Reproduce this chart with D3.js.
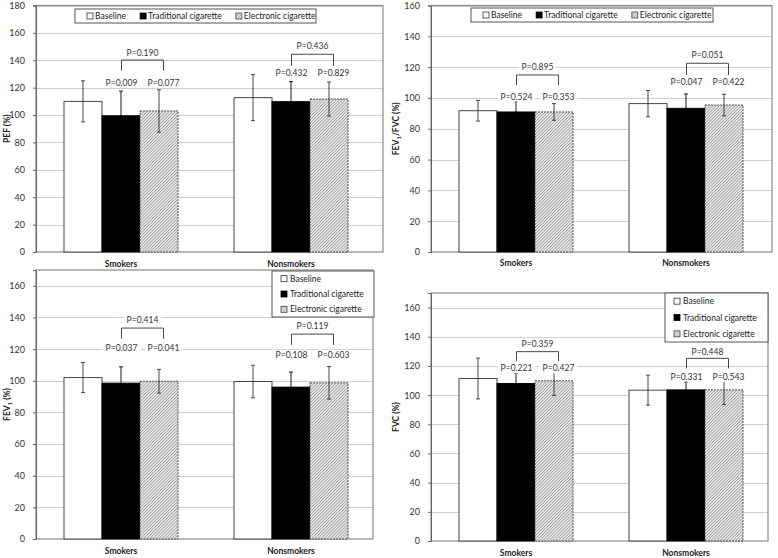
<!DOCTYPE html>
<html><head><meta charset="utf-8">
<script src="https://cdn.jsdelivr.net/npm/d3@7"></script>
<style>body{margin:0;background:#fff} text{font-family:Lato,'Open Sans',sans-serif}</style>
</head><body><svg id="c" width="778" height="558"></svg>
<script>
// ---------- DATA ----------
const groups = ["Smokers", "Nonsmokers"];
const seriesNames = ["Baseline", "Traditional cigarette", "Electronic cigarette"];

const pefMean   = [[110, 99.5, 103], [112.7, 109.8, 111.7]];
const pefSD     = [[15, 18, 15.5], [16.8, 14.6, 12.4]];
const ratioMean = [[91.7, 90.9, 90.9], [96.3, 93.3, 95.4]];
const ratioSD   = [[6.7, 6.7, 5.4], [8.5, 9.3, 7]];
const fev1Mean  = [[102, 98.5, 99.7], [99.5, 96, 98.7]];
const fev1SD    = [[9.5, 10.3, 7.5], [10.3, 9.5, 10.3]];
const fvcMean   = [[111.4, 108, 109.8], [103.4, 103.6, 103.6]];
const fvcSD     = [[14, 7, 10], [10.3, 5.5, 10]];

// p-values per group: [baseline vs traditional, baseline vs electronic, traditional vs electronic]
const pefP   = [["P=0.009", "P=0.077", "P=0.190"], ["P=0.432", "P=0.829", "P=0.436"]];
const ratioP = [["P=0.524", "P=0.353", "P=0.895"], ["P=0.047", "P=0.422", "P=0.051"]];
const fev1P  = [["P=0.037", "P=0.041", "P=0.414"], ["P=0.108", "P=0.603", "P=0.119"]];
const fvcP   = [["P=0.221", "P=0.427", "P=0.359"], ["P=0.331", "P=0.543", "P=0.448"]];

const pefTicks   = [0, 20, 40, 60, 80, 100, 120, 140, 160, 180];
const ratioTicks = [0, 20, 40, 60, 80, 100, 120, 140, 160];
const fev1Ticks  = [0, 20, 40, 60, 80, 100, 120, 140, 160];
const fvcTicks   = [0, 20, 40, 60, 80, 100, 120, 140, 160];

// ---------- LAYOUT ----------
// annotation heights (value units): [p label, bracket end, bracket top, bracket label]
const panels = [
  {mean: pefMean, sd: pefSD, p: pefP, ticks: pefTicks, max: 180,
   left: 36, right: 383, top: 5.5, bottom: 252, title: ["PEF (%)"], titleX: 7, catY: 267,
   legend: {type: "h", x: 75, y: 9, w: 241, h: 14},
   levels: [[123.4, 132.4, 140.2, 145.5], [131, 136, 144.4, 150.4]]},
  {mean: ratioMean, sd: ratioSD, p: ratioP, ticks: ratioTicks, max: 160,
   left: 431, right: 772, top: 5.5, bottom: 252, title: ["FEV", "1", "/FVC (%)"], titleX: 396, catY: 266,
   legend: {type: "h", x: 471, y: 8, w: 242, h: 14},
   levels: [[100.8, 108.4, 114.9, 120.3], [110.5, 114.9, 122.5, 127.9]]},
  {mean: fev1Mean, sd: fev1SD, p: fev1P, ticks: fev1Ticks, max: 170,
   left: 36, right: 373, top: 270, bottom: 539, title: ["FEV", "1", " (%)"], titleX: 7, catY: 554,
   legend: {type: "v", x: 272, y: 271, w: 102, h: 46},
   levels: [[120.6, 126.5, 133.3, 138.5], [116.4, 122.7, 129.5, 134.3]]},
  {mean: fvcMean, sd: fvcSD, p: fvcP, ticks: fvcTicks, max: 170,
   left: 431, right: 768, top: 293, bottom: 541, title: ["FVC (%)"], titleX: 396, catY: 556,
   legend: {type: "v", x: 665, y: 293, w: 103, h: 49},
   levels: [[118.3, 123.3, 129.8, 135.3], [112.6, 118.3, 125.2, 129.8]]}
];

const svg = d3.select("#c");
const defs = svg.append("defs");
const pat = defs.append("pattern").attr("id", "hatch").attr("patternUnits", "userSpaceOnUse")
  .attr("width", 2.2).attr("height", 2.2).attr("patternTransform", "rotate(45)");
pat.append("rect").attr("width", 2.2).attr("height", 2.2).attr("fill", "#eeeeee");
pat.append("line").attr("x1", 0.5).attr("y1", 0).attr("x2", 0.5).attr("y2", 2.2)
  .attr("stroke", "#a0a0a0").attr("stroke-width", 0.9);

const fills = ["#ffffff", "#000000", "url(#hatch)"];
const strokes = ["#333", "#000", "#444"];
const dashes = [null, null, "2,1"];

function labelWithBg(g, x, y, txt) {
  const bg = g.append("rect").attr("fill", "#fff");
  const t = g.append("text").attr("x", x).attr("y", y).attr("text-anchor", "middle")
    .attr("dominant-baseline", "central").attr("font-size", 8.5).attr("fill", "#333").text(txt);
  const b = t.node().getBBox();
  bg.attr("x", b.x - 3).attr("y", b.y).attr("width", b.width + 6).attr("height", b.height);
}

function marker(g, x, y, i) {
  g.append("rect").attr("x", x).attr("y", y - 3).attr("width", 6).attr("height", 6)
    .attr("fill", fills[i]).attr("stroke", strokes[i]).attr("stroke-width", 0.8);
}

panels.forEach(cfg => {
  const g = svg.append("g");
  const y = d3.scaleLinear().domain([0, cfg.max]).range([cfg.bottom, cfg.top]);
  const x0 = d3.scaleBand().domain(groups).range([cfg.left, cfg.left + 340]);
  const x1 = d3.scaleBand().domain(seriesNames).range([0, 114]);

  // gridlines
  g.selectAll(null).data(cfg.ticks.filter(t => t > 0)).join("line")
    .attr("x1", cfg.left).attr("x2", cfg.right)
    .attr("y1", d => Math.round(y(d)) + 0.5).attr("y2", d => Math.round(y(d)) + 0.5)
    .attr("stroke", "#cfcfcf").attr("stroke-width", 1);
  // plot border
  g.append("rect").attr("x", cfg.left).attr("y", cfg.top)
    .attr("width", cfg.right - cfg.left).attr("height", cfg.bottom - cfg.top)
    .attr("fill", "none").attr("stroke", "#8a8a8a").attr("stroke-width", 1.2);

  // axis
  const ax = g.append("g").attr("transform", `translate(${cfg.left},0)`)
    .call(d3.axisLeft(y).tickValues(cfg.ticks).tickSize(3).tickPadding(8));
  ax.select(".domain").attr("stroke", "#666");
  ax.selectAll(".tick line").attr("stroke", "#666");
  ax.selectAll(".tick text").attr("font-size", 9).attr("fill", "#333")
    .attr("font-family", "Lato, sans-serif");

  // bars + error bars
  groups.forEach((grp, gi) => {
    const gx = x0(grp) + (x0.bandwidth() - 114) / 2;
    seriesNames.forEach((s, si) => {
      const v = cfg.mean[gi][si], sd = cfg.sd[gi][si];
      const bx = gx + x1(s);
      g.append("rect").attr("x", bx).attr("y", y(v))
        .attr("width", x1.bandwidth()).attr("height", y(0) - y(v))
        .attr("fill", fills[si]).attr("stroke", strokes[si]).attr("stroke-width", 0.9)
        .attr("stroke-dasharray", dashes[si]);
      const cx = bx + x1.bandwidth() / 2;
      const eb = g.append("g").attr("stroke", si === 1 ? "#000" : "#333").attr("stroke-width", 0.9);
      eb.append("line").attr("x1", cx).attr("x2", cx).attr("y1", y(v - sd)).attr("y2", y(v + sd));
      [v - sd, v + sd].forEach(e => eb.append("line").attr("x1", cx - 2).attr("x2", cx + 2)
        .attr("y1", y(e)).attr("y2", y(e)));
    });

    // p-value annotations
    const lv = cfg.levels[gi];
    const cT = gx + x1(seriesNames[1]) + x1.bandwidth() / 2 + 0.5;
    const cE = gx + x1(seriesNames[2]) + x1.bandwidth() / 2 + 4.5;
    labelWithBg(g, cT, y(lv[0]), cfg.p[gi][0]);
    labelWithBg(g, cE, y(lv[0]), cfg.p[gi][1]);
    g.append("path")
      .attr("d", `M${cT},${y(lv[1])}V${y(lv[2])}H${cE}V${y(lv[1])}`)
      .attr("fill", "none").attr("stroke", "#333").attr("stroke-width", 0.9);
    labelWithBg(g, (cT + cE) / 2, y(lv[3]), cfg.p[gi][2]);

    // category label
    g.append("text").attr("x", x0(grp) + x0.bandwidth() / 2).attr("y", cfg.catY)
      .attr("text-anchor", "middle").attr("font-size", 8.5).attr("font-weight", "bold")
      .attr("fill", "#222").text(grp);
  });

  // y title
  const ty = (cfg.top + cfg.bottom) / 2;
  const tt = g.append("text").attr("transform", `translate(${cfg.titleX},${ty}) rotate(-90)`)
    .attr("text-anchor", "middle").attr("dominant-baseline", "central")
    .attr("font-size", 8.5).attr("font-weight", "bold").attr("fill", "#222");
  tt.append("tspan").text(cfg.title[0]);
  if (cfg.title.length > 1) {
    tt.append("tspan").attr("font-size", 6).attr("dy", 2).text(cfg.title[1]);
    tt.append("tspan").attr("dy", -2).text(cfg.title[2]);
  }

  // legend
  const L = cfg.legend;
  const lg = g.append("g");
  lg.append("rect").attr("x", L.x).attr("y", L.y).attr("width", L.w).attr("height", L.h)
    .attr("fill", "#fff").attr("stroke", "#555").attr("stroke-width", 1);
  if (L.type === "h") {
    let cx = L.x + 12;
    const my = L.y + L.h / 2;
    seriesNames.forEach((s, i) => {
      marker(lg, cx, my, i);
      const t = lg.append("text").attr("x", cx + 8).attr("y", my).attr("dominant-baseline", "central")
        .attr("font-size", 8.5).attr("fill", "#222").text(s);
      cx += 8 + t.node().getComputedTextLength() + 14;
    });
  } else {
    const step = L.h / 3;
    seriesNames.forEach((s, i) => {
      const my = L.y + step * (i + 0.5);
      marker(lg, L.x + 9, my, i);
      lg.append("text").attr("x", L.x + 18).attr("y", my).attr("dominant-baseline", "central")
        .attr("font-size", 8.5).attr("fill", "#222").text(s);
    });
  }
});
</script></body></html>
